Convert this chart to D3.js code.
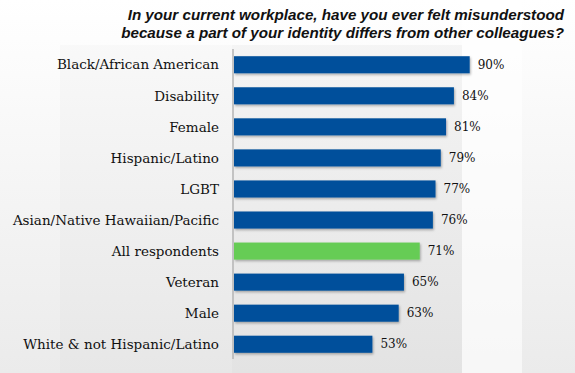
<!DOCTYPE html>
<html>
<head>
<meta charset="utf-8">
<script src="https://cdn.jsdelivr.net/npm/d3@7"></script>
<style>
  body { margin: 0; background: #fff; }
  svg { display: block; }
</style>
</head>
<body>
<svg id="chart"></svg>
<script>
// survey groups, top to bottom
const groups = [
  'Black/African American', 'Disability', 'Female', 'Hispanic/Latino', 'LGBT',
  'Asian/Native Hawaiian/Pacific', 'All respondents', 'Veteran', 'Male',
  'White & not Hispanic/Latino'
];
const shares = [90, 84, 81, 79, 77, 76, 71, 65, 63, 53];
const highlight = ['All respondents'];
const titleLines = [
  'In your current workplace, have you ever felt misunderstood',
  'because a part of your identity differs from other colleagues?'
];

const width = 575, height = 373;
const margin = {top: 50, right: 79, bottom: 14, left: 233};

const svg = d3.select('#chart')
  .attr('width', width)
  .attr('height', height);

// soft grey backdrop like the slide
const defs = svg.append('defs');
const bg = defs.append('linearGradient')
  .attr('id', 'bg').attr('x1', 0).attr('y1', 0).attr('x2', 0).attr('y2', 1);
bg.append('stop').attr('offset', '0%').attr('stop-color', '#ffffff');
bg.append('stop').attr('offset', '100%').attr('stop-color', '#ebebeb');
svg.append('rect').attr('width', width).attr('height', height).attr('fill', 'url(#bg)');
svg.append('rect').attr('x', 60).attr('y', 45).attr('width', 172).attr('height', height - 45)
  .attr('fill', '#000').attr('opacity', 0.015);
svg.append('rect').attr('x', 232).attr('y', 45).attr('width', 230).attr('height', height - 45)
  .attr('fill', '#000').attr('opacity', 0.03);
svg.append('rect').attr('x', 462).attr('y', 0).attr('width', 60).attr('height', height)
  .attr('fill', '#fff').attr('opacity', 0.6);

const filter = defs.append('filter').attr('id', 'shadow')
  .attr('x', '-5%').attr('y', '-20%').attr('width', '115%').attr('height', '160%');
filter.append('feDropShadow')
  .attr('dx', 1).attr('dy', 1.5).attr('stdDeviation', 0.8)
  .attr('flood-color', '#000').attr('flood-opacity', 0.3);

const x = d3.scaleLinear()
  .domain([0, 100])
  .range([margin.left, width - margin.right]);

const y = d3.scaleBand()
  .domain(groups)
  .range([margin.top, height - margin.bottom])
  .paddingInner(0.45)
  .paddingOuter(0.2);

const rows = groups.map((g, i) => ({group: g, value: shares[i]}));

// bars
svg.append('g')
  .selectAll('rect')
  .data(rows)
  .join('rect')
    .attr('x', x(0) + 1)
    .attr('y', d => y(d.group))
    .attr('width', d => x(d.value) - x(0) - 1)
    .attr('height', y.bandwidth())
    .attr('fill', d => highlight.includes(d.group) ? '#66cc55' : '#00509b')
    .attr('filter', 'url(#shadow)');

// category axis (line only, labels drawn separately)
svg.append('line')
  .attr('x1', x(0)).attr('x2', x(0))
  .attr('y1', margin.top - 1).attr('y2', height - margin.bottom)
  .attr('stroke', '#b5b5b5')
  .attr('stroke-width', 1.5);

svg.append('g')
  .selectAll('text')
  .data(rows)
  .join('text')
    .attr('x', x(0) - 14)
    .attr('y', d => y(d.group) + y.bandwidth() / 2)
    .attr('dy', '0.35em')
    .attr('text-anchor', 'end')
    .attr('font-family', "Georgia, 'DejaVu Serif', serif")
    .attr('font-size', 13.5)
    .attr('fill', '#111')
    .text(d => d.group);

// value labels
svg.append('g')
  .selectAll('text')
  .data(rows)
  .join('text')
    .attr('x', d => x(d.value) + 8)
    .attr('y', d => y(d.group) + y.bandwidth() / 2)
    .attr('dy', '0.35em')
    .attr('font-family', "Georgia, 'DejaVu Serif', serif")
    .attr('font-size', 12)
    .attr('fill', '#111')
    .text(d => d.value + '%');

// question title
svg.append('g')
  .selectAll('text')
  .data(titleLines)
  .join('text')
    .attr('x', 564)
    .attr('y', (d, i) => 20 + i * 18)
    .attr('text-anchor', 'end')
    .attr('font-family', "Arial, 'Liberation Sans', sans-serif")
    .attr('font-weight', 'bold')
    .attr('font-style', 'italic')
    .attr('font-size', 15.2)
    .attr('fill', '#111')
    .text(d => d);
</script>
</body>
</html>
